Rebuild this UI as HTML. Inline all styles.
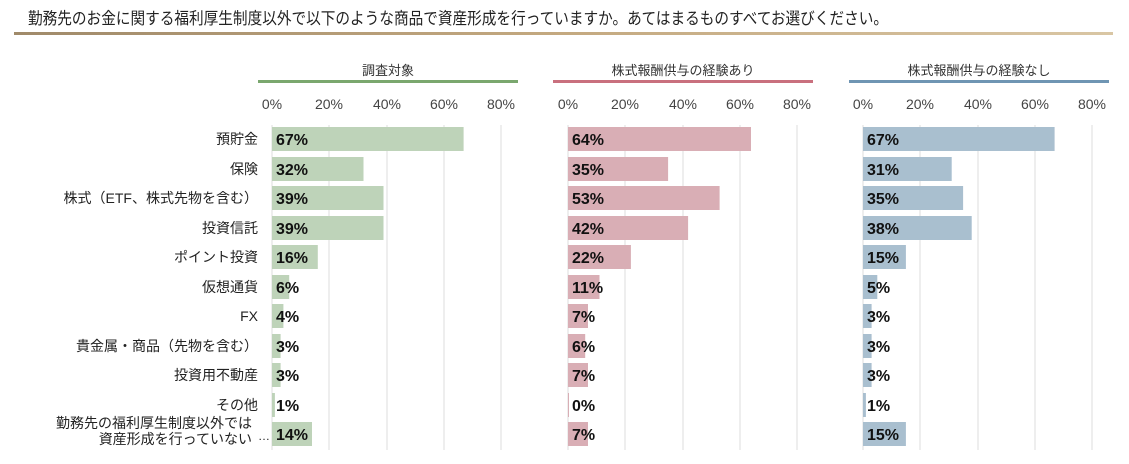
<!DOCTYPE html>
<html><head><meta charset="utf-8"><style>
html,body{margin:0;padding:0;background:#fff;}
svg{display:block;font-family:"Liberation Sans","Noto Sans CJK JP",sans-serif;}
.t{font-size:14px;fill:#222;text-anchor:end;}
.ax{font-size:14px;fill:#444;text-anchor:middle;}
.v{font-size:16px;fill:#111;font-weight:bold;}
.h{font-size:13px;fill:#333;text-anchor:middle;}
.g{stroke:#ddd;stroke-width:1;}
</style></head><body>
<svg width="1129" height="464" viewBox="0 0 1129 464">
<defs><linearGradient id="ul" x1="0" x2="1"><stop offset="0" stop-color="#a08a6a"/><stop offset="0.5" stop-color="#c4a980"/><stop offset="1" stop-color="#d9c6a4"/></linearGradient></defs>
<text x="28" y="24" font-size="16.5" fill="#222" textLength="860" lengthAdjust="spacingAndGlyphs">勤務先のお金に関する福利厚生制度以外で以下のような商品で資産形成を行っていますか。あてはまるものすべてお選びください。</text>
<rect x="14" y="32" width="1099" height="3" fill="url(#ul)"/>

<text class="h" x="388" y="75">調査対象</text>
<rect x="258" y="80" width="260" height="3" fill="#7aa76e"/>
<text class="h" x="683" y="75">株式報酬供与の経験あり</text>
<rect x="553" y="80" width="260" height="3" fill="#c9707e"/>
<text class="h" x="979" y="75">株式報酬供与の経験なし</text>
<rect x="849" y="80" width="260" height="3" fill="#6f95b3"/>

<g class="g">
<line x1="272" y1="125" x2="272" y2="450"/><line x1="329" y1="125" x2="329" y2="450"/><line x1="387" y1="125" x2="387" y2="450"/><line x1="444" y1="125" x2="444" y2="450"/><line x1="501" y1="125" x2="501" y2="450"/>
<line x1="568" y1="125" x2="568" y2="450"/><line x1="625" y1="125" x2="625" y2="450"/><line x1="683" y1="125" x2="683" y2="450"/><line x1="740" y1="125" x2="740" y2="450"/><line x1="797" y1="125" x2="797" y2="450"/>
<line x1="863" y1="125" x2="863" y2="450"/><line x1="920" y1="125" x2="920" y2="450"/><line x1="978" y1="125" x2="978" y2="450"/><line x1="1035" y1="125" x2="1035" y2="450"/><line x1="1092" y1="125" x2="1092" y2="450"/>
</g>
<g class="ax">
<text x="272" y="109">0%</text><text x="329" y="109">20%</text><text x="387" y="109">40%</text><text x="444" y="109">60%</text><text x="501" y="109">80%</text>
<text x="568" y="109">0%</text><text x="625" y="109">20%</text><text x="683" y="109">40%</text><text x="740" y="109">60%</text><text x="797" y="109">80%</text>
<text x="863" y="109">0%</text><text x="920" y="109">20%</text><text x="978" y="109">40%</text><text x="1035" y="109">60%</text><text x="1092" y="109">80%</text>
</g>

<g class="t">
<text x="258" y="144">預貯金</text>
<text x="258" y="174">保険</text>
<text x="258" y="203">株式（ETF、株式先物を含む）</text>
<text x="258" y="233">投資信託</text>
<text x="258" y="262">ポイント投資</text>
<text x="258" y="292">仮想通貨</text>
<text x="258" y="321">FX</text>
<text x="258" y="351">貴金属・商品（先物を含む）</text>
<text x="258" y="380">投資用不動産</text>
<text x="258" y="410">その他</text>
<text x="252" y="428">勤務先の福利厚生制度以外では</text>
<text x="252" y="444">資産形成を行っていない</text>
<text x="270" y="440" font-size="12">…</text>
</g>

<g fill="#bed3b9">
<rect x="272" y="127" width="191.6" height="24"/>
<rect x="272" y="157" width="91.5" height="24"/>
<rect x="272" y="186" width="111.5" height="24"/>
<rect x="272" y="216" width="111.5" height="24"/>
<rect x="272" y="245" width="45.8" height="24"/>
<rect x="272" y="275" width="17.2" height="24"/>
<rect x="272" y="304" width="11.4" height="24"/>
<rect x="272" y="334" width="8.6" height="24"/>
<rect x="272" y="363" width="8.6" height="24"/>
<rect x="272" y="393" width="2.9" height="24"/>
<rect x="272" y="422" width="40" height="24"/>
</g>
<g fill="#d9aeb5">
<rect x="568" y="127" width="183" height="24"/>
<rect x="568" y="157" width="100.1" height="24"/>
<rect x="568" y="186" width="151.6" height="24"/>
<rect x="568" y="216" width="120.1" height="24"/>
<rect x="568" y="245" width="62.9" height="24"/>
<rect x="568" y="275" width="31.5" height="24"/>
<rect x="568" y="304" width="20" height="24"/>
<rect x="568" y="334" width="17.2" height="24"/>
<rect x="568" y="363" width="20" height="24"/>
<rect x="568" y="393" width="1" height="24"/>
<rect x="568" y="422" width="20" height="24"/>
</g>
<g fill="#a9bfcf">
<rect x="863" y="127" width="191.6" height="24"/>
<rect x="863" y="157" width="88.7" height="24"/>
<rect x="863" y="186" width="100.1" height="24"/>
<rect x="863" y="216" width="108.7" height="24"/>
<rect x="863" y="245" width="42.9" height="24"/>
<rect x="863" y="275" width="14.3" height="24"/>
<rect x="863" y="304" width="8.6" height="24"/>
<rect x="863" y="334" width="8.6" height="24"/>
<rect x="863" y="363" width="8.6" height="24"/>
<rect x="863" y="393" width="2.9" height="24"/>
<rect x="863" y="422" width="42.9" height="24"/>
</g>

<g class="v">
<text x="276" y="145">67%</text><text x="276" y="175">32%</text><text x="276" y="204">39%</text><text x="276" y="234">39%</text><text x="276" y="263">16%</text><text x="276" y="293">6%</text><text x="276" y="322">4%</text><text x="276" y="352">3%</text><text x="276" y="381">3%</text><text x="276" y="411">1%</text><text x="276" y="440">14%</text>
<text x="572" y="145">64%</text><text x="572" y="175">35%</text><text x="572" y="204">53%</text><text x="572" y="234">42%</text><text x="572" y="263">22%</text><text x="572" y="293">11%</text><text x="572" y="322">7%</text><text x="572" y="352">6%</text><text x="572" y="381">7%</text><text x="572" y="411">0%</text><text x="572" y="440">7%</text>
<text x="867" y="145">67%</text><text x="867" y="175">31%</text><text x="867" y="204">35%</text><text x="867" y="234">38%</text><text x="867" y="263">15%</text><text x="867" y="293">5%</text><text x="867" y="322">3%</text><text x="867" y="352">3%</text><text x="867" y="381">3%</text><text x="867" y="411">1%</text><text x="867" y="440">15%</text>
</g>
</svg>
</body></html>
